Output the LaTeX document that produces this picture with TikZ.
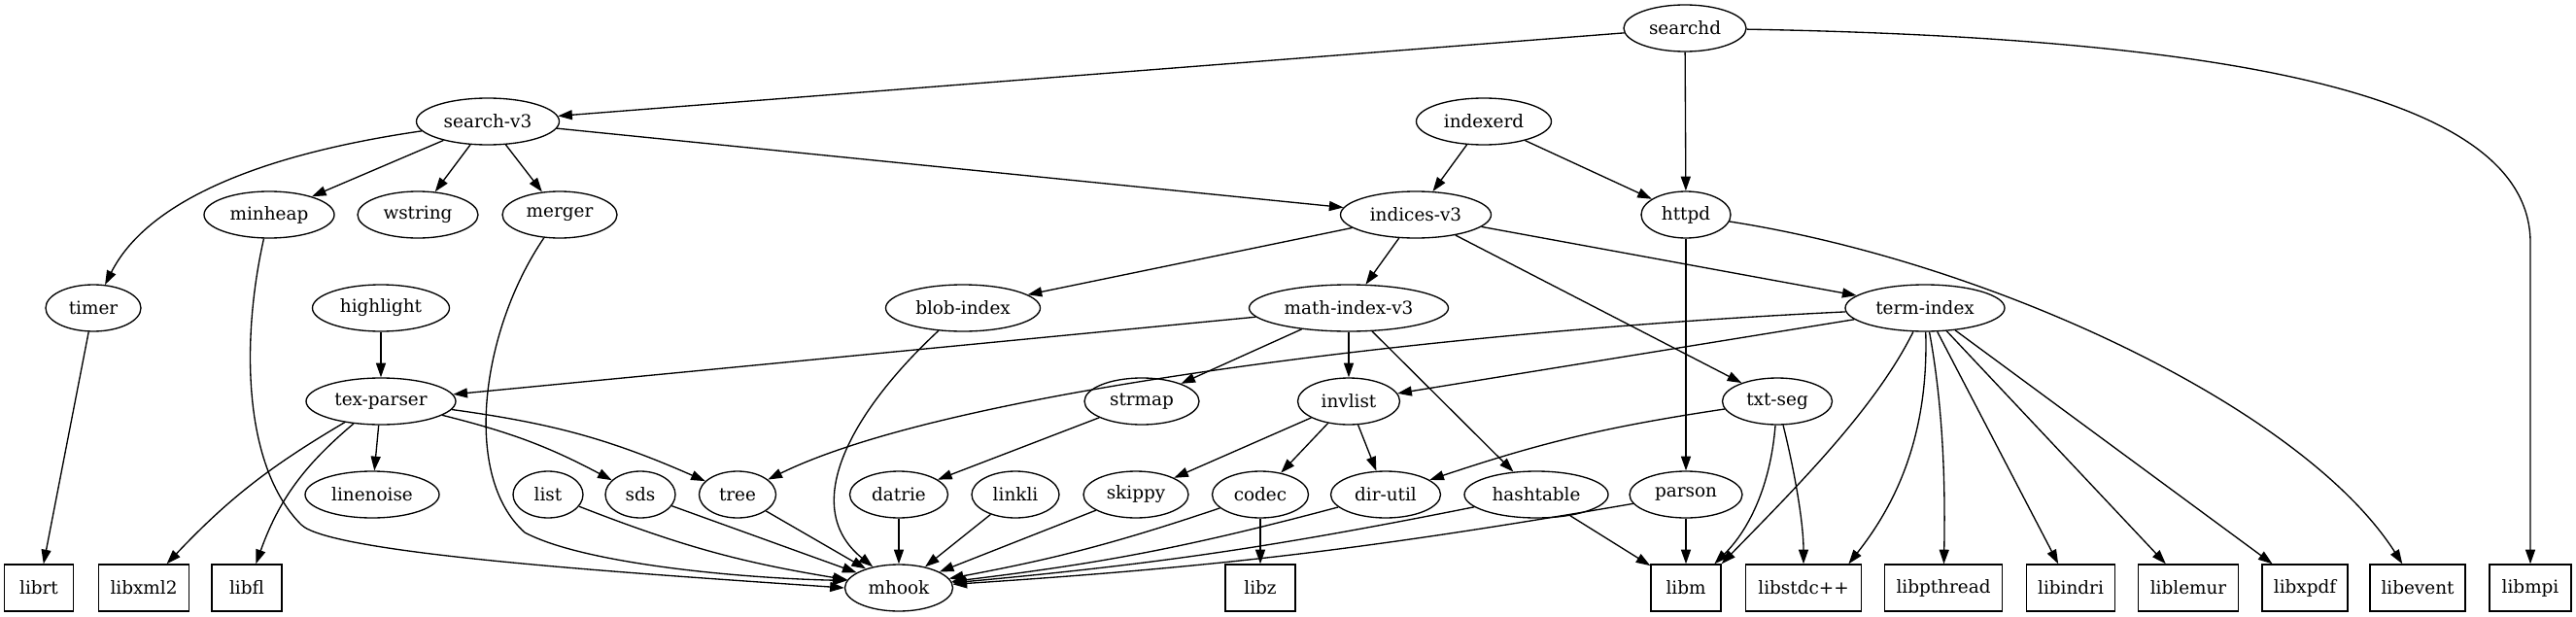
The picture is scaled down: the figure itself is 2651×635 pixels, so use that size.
\documentclass[tikz,border=0pt]{standalone}
\usepackage{fontspec}
\setmainfont{DejaVu Serif}
\usetikzlibrary{shapes.geometric,arrows.meta}

\begin{document}
\begin{tikzpicture}[x=0.75pt,y=0.75pt,font=\fontsize{13.8}{16}\selectfont,
   pkg/.style={ellipse,draw,line width=1pt,inner sep=0pt,minimum height=36pt,minimum width=#1*0.75pt},
   lib/.style={rectangle,draw,line width=1pt,inner sep=0pt,minimum height=36pt,minimum width=#1*0.75pt},
   dep/.style={line width=1pt,-{Triangle[length=11pt,width=7.5pt]}}]
   \useasboundingbox (0,0) rectangle (2651,-635);
   % daemons and top modules
   \node[pkg=126] (searchd)     at (1734,-29)  {searchd};
   \node[pkg=147] (searchv3)    at (502,-125)  {search-v3};
   \node[pkg=139] (indexerd)    at (1527,-125) {indexerd};
   \node[pkg=134] (minheap)     at (277,-221)  {minheap};
   \node[pkg=124] (wstring)     at (430,-221)  {wstring};
   \node[pkg=118] (merger)      at (576,-221)  {merger};
   \node[pkg=155] (indicesv3)   at (1457,-221) {indices-v3};
   \node[pkg=92]  (httpd)       at (1735,-221) {httpd};
   \node[pkg=98]  (timer)       at (96,-317)   {timer};
   \node[pkg=141] (highlight)   at (392,-317)  {highlight};
   \node[pkg=159] (blobindex)   at (991,-317)  {blob-index};
   \node[pkg=205] (mathindexv3) at (1388,-317) {math-index-v3};
   \node[pkg=164] (termindex)   at (1981,-317) {term-index};
   \node[pkg=154] (texparser)   at (392,-413)  {tex-parser};
   \node[pkg=118] (strmap)      at (1175,-413) {strmap};
   \node[pkg=105] (invlist)     at (1388,-413) {invlist};
   \node[pkg=113] (txtseg)      at (1829,-413) {txt-seg};
   \node[pkg=138] (linenoise)   at (383,-509)  {linenoise};
   \node[pkg=72]  (list)        at (564,-509)  {list};
   \node[pkg=72]  (sds)         at (659,-509)  {sds};
   \node[pkg=79]  (tree)        at (759,-509)  {tree};
   \node[pkg=101] (datrie)      at (925,-509)  {datrie};
   \node[pkg=90]  (linkli)      at (1045,-509) {linkli};
   \node[pkg=108] (skippy)      at (1169,-509) {skippy};
   \node[pkg=99]  (codec)       at (1297,-509) {codec};
   \node[pkg=113] (dirutil)     at (1426,-509) {dir-util};
   \node[pkg=148] (hashtable)   at (1581,-509) {hashtable};
   \node[pkg=116] (parson)      at (1735,-509) {parson};
   % bottom row
   \node[lib=71]  (librt)       at (40,-605)   {librt};
   \node[lib=93]  (libxml)      at (148,-605)  {libxml2};
   \node[lib=72]  (libfl)       at (254,-605)  {libfl};
   \node[pkg=111] (mhook)       at (925,-605)  {mhook};
   \node[lib=72]  (libz)        at (1297,-605) {libz};
   \node[lib=72]  (libm)        at (1735,-605) {libm};
   \node[lib=119] (libstdcpp)   at (1856,-605) {libstdc++};
   \node[lib=121] (libpthread)  at (2000,-605) {libpthread};
   \node[lib=91]  (libindri)    at (2131,-605) {libindri};
   \node[lib=103] (liblemur)    at (2252,-605) {liblemur};
   \node[lib=88]  (libxpdf)     at (2372,-605) {libxpdf};
   \node[lib=98]  (libevent)    at (2488,-605) {libevent};
   \node[lib=84]  (libmpi)      at (2604,-605) {libmpi};
   % dependencies
   \draw[dep] (searchd) -- (searchv3);
   \draw[dep] (searchd) -- (httpd);
   \draw[dep] (searchd) .. controls (2350,-40) and (2604,-110) .. (2604,-250) -- (libmpi);
   \draw[dep] (searchv3) .. controls (260,-160) and (150,-210) .. (timer);
   \draw[dep] (searchv3) -- (minheap);
   \draw[dep] (searchv3) -- (wstring);
   \draw[dep] (searchv3) -- (merger);
   \draw[dep] (searchv3) -- (indicesv3);
   \draw[dep] (indexerd) -- (indicesv3);
   \draw[dep] (indexerd) -- (httpd);
   \draw[dep] (indicesv3) -- (blobindex);
   \draw[dep] (indicesv3) -- (mathindexv3);
   \draw[dep] (indicesv3) -- (termindex);
   \draw[dep] (indicesv3) -- (txtseg);
   \draw[dep] (httpd) -- (parson);
   \draw[dep] (httpd) .. controls (2050,-270) and (2370,-420) .. (libevent);
   \draw[dep] (minheap) .. controls (248,-350) and (250,-480) .. (310,-540) .. controls (340,-570) and (650,-590) .. (mhook.west);
   \draw[dep] (merger) .. controls (495,-340) and (475,-490) .. (540,-548) .. controls (600,-580) and (760,-595) .. (mhook.172);
   \draw[dep] (timer) -- (librt);
   \draw[dep] (highlight) -- (texparser);
   \draw[dep] (blobindex) .. controls (880,-420) and (820,-520) .. (mhook);
   \draw[dep] (mathindexv3) -- (texparser);
   \draw[dep] (mathindexv3) -- (strmap);
   \draw[dep] (mathindexv3) -- (invlist);
   \draw[dep] (mathindexv3) -- (hashtable);
   \draw[dep] (termindex) .. controls (1500,-340) and (980,-400) .. (tree);
   \draw[dep] (termindex) -- (invlist);
   \draw[dep] (termindex) .. controls (1930,-420) and (1850,-500) .. (libm.north east);
   \draw[dep] (termindex) .. controls (1985,-450) and (1950,-520) .. (libstdcpp.28);
   \draw[dep] (termindex) .. controls (2000,-420) and (2002,-500) .. (libpthread);
   \draw[dep] (termindex) -- (libindri);
   \draw[dep] (termindex) -- (liblemur);
   \draw[dep] (termindex) -- (libxpdf);
   \draw[dep] (texparser) -- (linenoise);
   \draw[dep] (texparser) to[bend left=7] (sds);
   \draw[dep] (texparser) to[bend left=8] (tree);
   \draw[dep] (texparser) to[bend right=8] (libxml);
   \draw[dep] (texparser) to[bend right=15] (libfl);
   \draw[dep] (strmap) -- (datrie);
   \draw[dep] (invlist) -- (skippy);
   \draw[dep] (invlist) -- (codec);
   \draw[dep] (invlist) -- (dirutil);
   \draw[dep] (txtseg) to[bend right=5] (dirutil);
   \draw[dep] (txtseg) .. controls (1822,-500) and (1800,-545) .. (libm.40);
   \draw[dep] (txtseg) .. controls (1848,-490) and (1856,-540) .. (libstdcpp);
   \draw[dep] (list) to[bend right=6] (mhook);
   \draw[dep] (sds) -- (mhook);
   \draw[dep] (tree) -- (mhook);
   \draw[dep] (datrie) -- (mhook);
   \draw[dep] (linkli) -- (mhook);
   \draw[dep] (skippy) -- (mhook);
   \draw[dep] (codec) to[bend left=4] (mhook);
   \draw[dep] (codec) -- (libz);
   \draw[dep] (dirutil) to[bend left=4] (mhook);
   \draw[dep] (hashtable) to[bend left=3] (mhook);
   \draw[dep] (hashtable) -- (libm);
   \draw[dep] (parson) to[bend left=3] (mhook);
   \draw[dep] (parson) -- (libm);
\end{tikzpicture}
\end{document}
